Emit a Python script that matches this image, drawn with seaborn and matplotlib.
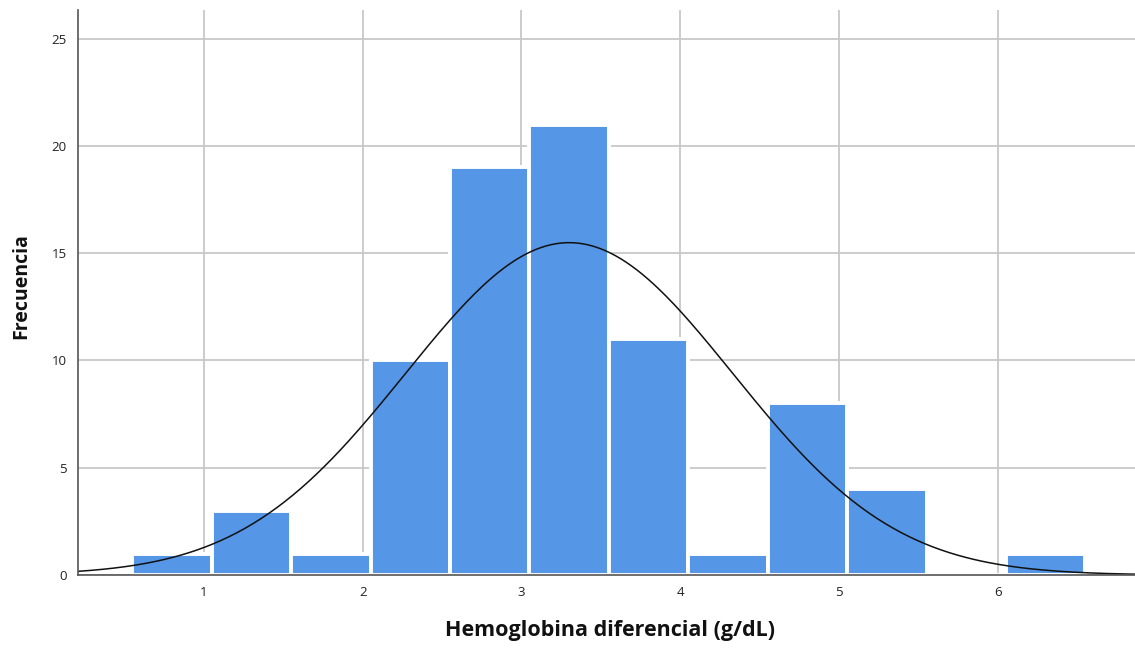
import numpy as np
import pandas as pd
import matplotlib
matplotlib.use("Agg")
import matplotlib.pyplot as plt
import seaborn as sns

# Histogram bins (g/dL) and frequencies
bin_edges = [0.55, 1.05, 1.55, 2.05, 2.55, 3.05, 3.55, 4.05, 4.55, 5.05, 5.55, 6.05, 6.55]
frequencies = [1, 3, 1, 10, 19, 21, 11, 1, 8, 4, 0, 1]

# Fitted normal curve parameters
mean_hb = 3.30
sd_hb = 1.03

x_ticks = [1, 2, 3, 4, 5, 6]
y_ticks = [0, 5, 10, 15, 20, 25]

sns.set_theme(style="white")
plt.rcParams["font.family"] = ["Open Sans", "DejaVu Sans"]

edges = np.array(bin_edges)
centers = (edges[:-1] + edges[1:]) / 2
counts = np.array(frequencies)
n_total = counts.sum()
width = edges[1] - edges[0]
hist_df = pd.DataFrame({"hb": centers, "freq": counts})

fig = plt.figure(figsize=(11.35, 6.49), dpi=100)
ax = fig.add_axes([0.0687, 0.114, 0.9313, 0.871])

ax.set_axisbelow(True)
ax.grid(True, color="#c8c8c8", linewidth=1.3)

sns.histplot(data=hist_df, x="hb", weights="freq", bins=list(bin_edges), ax=ax,
             color="#5596E6", alpha=1.0, edgecolor="white", linewidth=2.8)

xs = np.linspace(0.2, 6.9, 400)
ys = n_total * width / (sd_hb * np.sqrt(2 * np.pi)) * np.exp(-0.5 * ((xs - mean_hb) / sd_hb) ** 2)
sns.lineplot(x=xs, y=ys, ax=ax, color="#111111", linewidth=1.1)

ax.set_xlim(0.208, 6.862)
ax.set_ylim(0, 26.35)
ax.set_xticks(x_ticks)
ax.set_yticks(y_ticks)
ax.tick_params(axis="both", length=0, labelsize=9.5, labelcolor="#222222", pad=8)

for side in ["top", "right"]:
    ax.spines[side].set_visible(False)
for side in ["left", "bottom"]:
    ax.spines[side].set_color("#555555")
    ax.spines[side].set_linewidth(1.2)

ax.set_xlabel("Hemoglobina diferencial (g/dL)", fontsize=15.5, fontweight="bold",
              color="#111111")
ax.set_ylabel("Frecuencia", fontsize=14, fontweight="bold", color="#111111")
ax.xaxis.set_label_coords(0.503, -0.08)
ax.yaxis.set_label_coords(-0.0445, 0.512)

fig.savefig("out.png", dpi=100)
